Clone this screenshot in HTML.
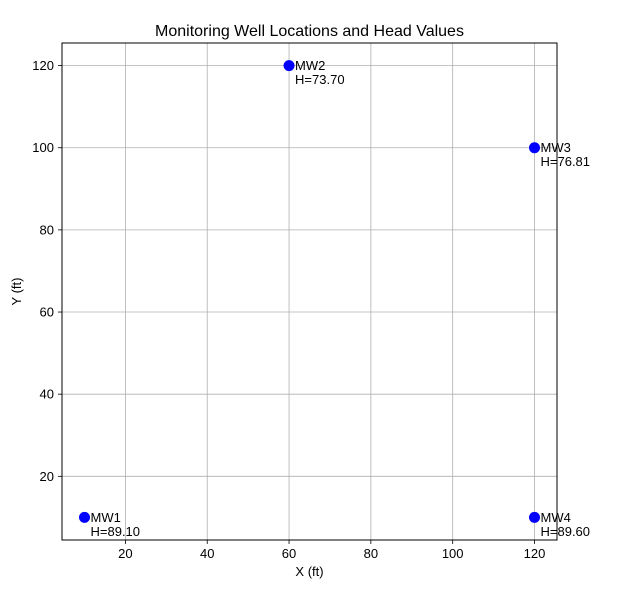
<!DOCTYPE html>
<html><head><meta charset="utf-8"><style>body{margin:0;background:#fff}svg{display:block;font-family:"Liberation Sans","DejaVu Sans",sans-serif}</style></head>
<body>
<svg id="c" width="619" height="597"></svg>
<script>
const wellNames=["MW1","MW2","MW3","MW4"];
const xVals=[10,60,120,120];
const yVals=[10,120,100,10];
const heads=["89.10","73.70","76.81","89.60"];
const xTicks=[20,40,60,80,100,120];
const yTicks=[20,40,60,80,100,120];
const L=62,R=557,T=43,B=540,x0=4.5,x1=125.5,y0=4.5,y1=125.5;
const sx=v=>L+(v-x0)/(x1-x0)*(R-L);
const sy=v=>B-(v-y0)/(y1-y0)*(B-T);
const svg=document.getElementById('c');
const NS='http://www.w3.org/2000/svg';
function mk(t,a,txt){const e=document.createElementNS(NS,t);for(const k in a)e.setAttribute(k,a[k]);if(txt!==undefined)e.textContent=txt;svg.appendChild(e);return e;}
let e;
xTicks.forEach(v=>{
e=mk('line',{x1:sx(v),x2:sx(v),y1:T,y2:B,stroke:'#b0b0b0','stroke-width':0.8});


e=mk('line',{x1:sx(v),x2:sx(v),y1:B,y2:B+4,stroke:'#000','stroke-width':0.8});


e=mk('text',{x:sx(v),y:B+18,'font-size':13,'text-anchor':'middle'},v);


});
yTicks.forEach(v=>{
e=mk('line',{x1:L,x2:R,y1:sy(v),y2:sy(v),stroke:'#b0b0b0','stroke-width':0.8});


e=mk('line',{x1:L-4,x2:L,y1:sy(v),y2:sy(v),stroke:'#000','stroke-width':0.8});


e=mk('text',{x:L-8,y:sy(v)+4.5,'font-size':13,'text-anchor':'end'},v);


});
e=mk('rect',{x:L,y:T,width:R-L,height:B-T,fill:'none',stroke:'#000','stroke-width':1});


wellNames.forEach((n,i)=>{
const cx=sx(xVals[i]),cy=sy(yVals[i]);
e=mk('circle',{cx:cx,cy:cy,r:5.5,fill:'#0000ff'});


e=mk('text',{x:cx+6,y:cy+4.5,'font-size':13},n);


e=mk('text',{x:cx+6,y:cy+18.5,'font-size':13},'H='+heads[i]);


});
e=mk('text',{x:(L+R)/2,y:36,'font-size':16,'text-anchor':'middle'},'Monitoring Well Locations and Head Values');


e=mk('text',{x:(L+R)/2,y:576,'font-size':13,'text-anchor':'middle'},'X (ft)');


e=mk('text',{x:21,y:(T+B)/2,'font-size':13,'text-anchor':'middle',transform:'rotate(-90 21 '+(T+B)/2+')'},'Y (ft)');


</script>
</body></html>
